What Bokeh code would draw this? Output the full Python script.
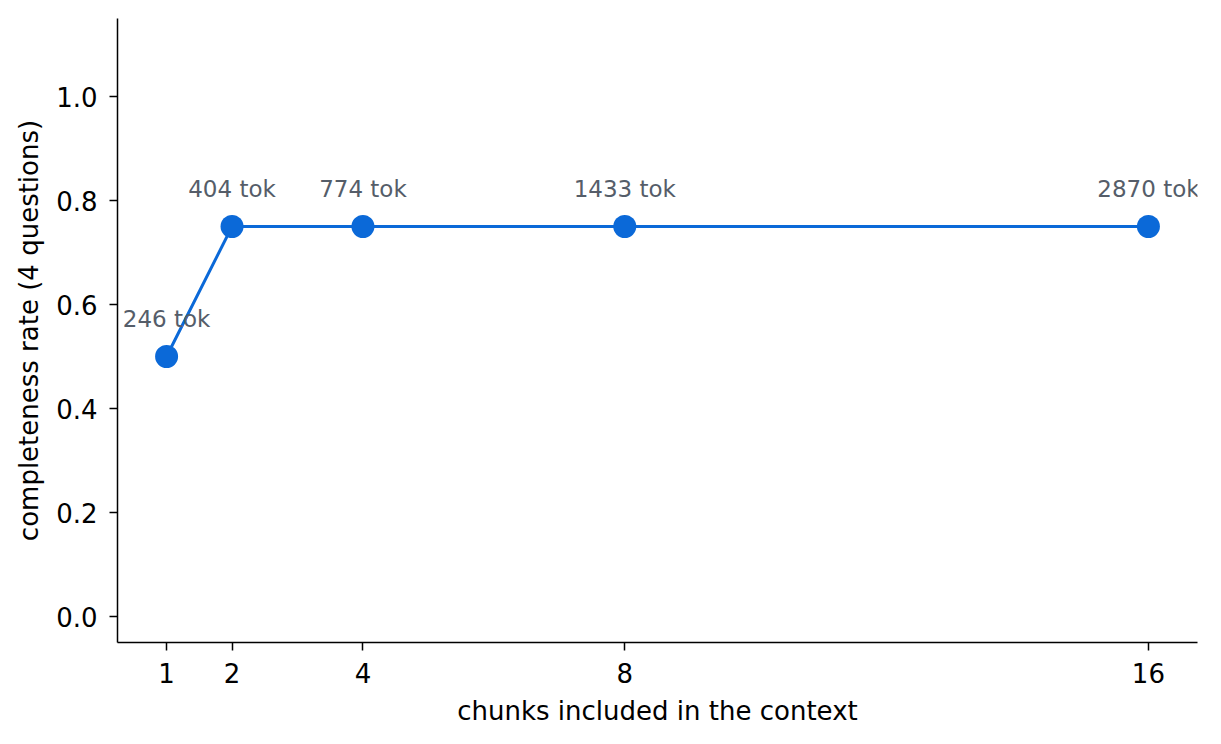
from bokeh.plotting import figure
from bokeh.models import ColumnDataSource, FixedTicker, Range1d, CustomJSTickFormatter
from bokeh.embed import file_html
from bokeh.resources import INLINE
from bokeh.core.properties import value

chunks = [1, 2, 4, 8, 16]
completeness = [0.50, 0.75, 0.75, 0.75, 0.75]
token_labels = ["246 tok", "404 tok", "774 tok", "1433 tok", "2870 tok"]
x_ticks = [1, 2, 4, 8, 16]
y_ticks = [0.0, 0.2, 0.4, 0.6, 0.8, 1.0]

BLUE = "#0b69d8"
GRAY = "#555d69"
FONT = "DejaVu Sans"

src = ColumnDataSource(dict(x=chunks, y=completeness, lab=token_labels))

p = figure(width=1205, height=728, output_backend="svg", toolbar_location=None,
           x_range=Range1d(0.25, 16.75), y_range=Range1d(-0.05, 1.15),
           min_border_left=117, min_border_right=8, min_border_top=18, min_border_bottom=85)
p.outline_line_color = None
p.grid.visible = False
p.background_fill_color = "white"

p.line("x", "y", source=src, line_color=BLUE, line_width=3)
p.scatter("x", "y", source=src, size=23, fill_color=BLUE, line_color=BLUE, line_width=0)
p.text("x", "y", text="lab", source=src, text_align="center", text_baseline="alphabetic",
       y_offset=-38, text_color=GRAY, text_font=value(FONT), text_font_size="23px")

for ax in (p.xaxis[0], p.yaxis[0]):
    ax.axis_line_width = 1.5
    ax.axis_line_color = "black"
    ax.major_tick_line_width = 1.5
    ax.major_tick_out = 8
    ax.major_tick_in = 0
    ax.minor_tick_out = 0
    ax.minor_tick_in = 0
    ax.major_label_text_font = FONT
    ax.major_label_text_font_size = "26px"
    ax.major_label_text_color = "black"
    ax.axis_label_text_font = FONT
    ax.axis_label_text_font_size = "26px"
    ax.axis_label_text_font_style = "normal"
    ax.axis_label_text_color = "black"

p.xaxis.ticker = FixedTicker(ticks=x_ticks)
p.yaxis.ticker = FixedTicker(ticks=y_ticks)
p.yaxis.formatter = CustomJSTickFormatter(code="return tick.toFixed(1);")
p.xaxis.axis_label = "chunks included in the context"
p.yaxis.axis_label = "completeness rate (4 questions)"
p.xaxis.major_label_standoff = 12
p.yaxis.major_label_standoff = 12
p.xaxis.axis_label_standoff = 10
p.yaxis.axis_label_standoff = 9

open("out.html", "w").write(file_html(p, INLINE))
